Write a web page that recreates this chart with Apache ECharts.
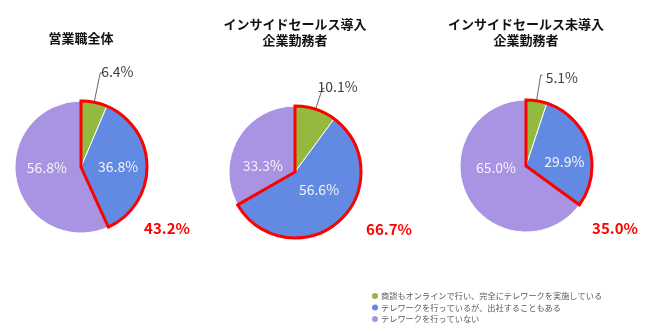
<!DOCTYPE html>
<html>
<head>
<meta charset="utf-8">
<script src="https://cdn.jsdelivr.net/npm/echarts@6/dist/echarts.min.js"></script>
<style>
  html, body { margin: 0; padding: 0; background: #fff; }
  #chart { width: 650px; height: 333px; }
</style>
</head>
<body>
<div id="chart"></div>
<script>
// Telework status of sales staff, split by whether the company uses inside sales
const categories = [
  '商談もオンラインで行い、完全にテレワークを実施している',
  'テレワークを行っているが、出社することもある',
  'テレワークを行っていない'
];
const groupTitles = [
  '営業職全体',
  'インサイドセールス導入\n企業勤務者',
  'インサイドセールス未導入\n企業勤務者'
];
const fullRemote = [6.4, 10.1, 5.1];
const partRemote = [36.8, 56.6, 29.9];
const noRemote = [56.8, 33.3, 65.0];

const colors = ['#93b93f', '#628ae3', '#a993e3'];
const FONT = '"Noto Sans CJK JP", "Noto Sans", sans-serif';

// layout of the three pies: centre, title top, total-label offset,
// leader length and small nudges for each slice label
const pies = [
  { c: [81, 167], titleTop: 30, tot: [86, 61], lineLen: 30,
    nudge: [[-2, -1], [1, 0], [1, -7]] },
  { c: [295, 172], titleTop: 16, tot: [94, 57], lineLen: 22,
    nudge: [[-8, -2], [0, -9], [-1, 12]] },
  { c: [526, 166], titleTop: 16, tot: [89, 62], lineLen: 26,
    nudge: [[2, 3], [4, 7], [2, -15]] }
];
const R = 66;

const fmt = v => v.toFixed(1) + '%';

const series = [];
const titles = [];

pies.forEach((p, i) => {
  titles.push({
    text: groupTitles[i],
    left: p.c[0],
    top: p.titleTop,
    textAlign: 'center',
    padding: 0,
    textStyle: {
      fontFamily: FONT, fontSize: 13, fontWeight: 'bold',
      color: '#111', lineHeight: 16
    }
  });

  const vals = [fullRemote[i], partRemote[i], noRemote[i]];

  // main pie
  series.push({
    type: 'pie',
    center: p.c,
    radius: R,
    startAngle: 90,
    clockwise: true,
    avoidLabelOverlap: false,
    silent: true,
    animation: false,
    itemStyle: { borderColor: '#fff', borderWidth: 1 },
    labelLayout: params => ({
      dx: p.nudge[params.dataIndex][0],
      dy: p.nudge[params.dataIndex][1]
    }),
    data: vals.map((v, k) => ({
      name: categories[k],
      value: v,
      itemStyle: { color: colors[k] },
      label: k === 0 ? {
        show: true,
        position: 'outside',
        formatter: d => fmt(d.value),
        color: '#404040',
        fontFamily: FONT,
        fontSize: 14,
        distanceToLabelLine: 1,
        overflow: 'none'
      } : {
        show: true,
        position: 'inside',
        formatter: d => fmt(d.value),
        color: '#f4f4f8',
        fontFamily: FONT,
        fontSize: 14
      },
      labelLine: k === 0 ? {
        show: true,
        length: p.lineLen,
        length2: 2,
        lineStyle: { color: '#404040', width: 0.8 }
      } : { show: false }
    }))
  });

  // red outline around the slices of people doing some telework
  const remoteSum = fullRemote[i] + partRemote[i];
  series.push({
    type: 'pie',
    center: p.c,
    radius: R,
    startAngle: 90,
    clockwise: true,
    silent: true,
    animation: false,
    z: 3,
    labelLayout: params => params.dataIndex === 0 ? {
      x: p.c[0] + p.tot[0],
      y: p.c[1] + p.tot[1],
      align: 'center',
      verticalAlign: 'middle'
    } : {},
    data: [
      {
        name: 'remote',
        value: remoteSum,
        itemStyle: { color: 'rgba(0,0,0,0)', borderColor: '#ff0000', borderWidth: 3, borderJoin: 'miter' },
        label: {
          show: true,
          position: 'inside',
          formatter: d => fmt(d.value),
          color: '#ff0000',
          fontFamily: FONT,
          fontSize: 15,
          fontWeight: 'bold'
        },
        labelLine: { show: false }
      },
      {
        name: 'office',
        value: noRemote[i],
        itemStyle: { color: 'rgba(0,0,0,0)', borderWidth: 0 },
        label: { show: false },
        labelLine: { show: false }
      }
    ]
  });
});

const chart = echarts.init(document.getElementById('chart'), null, { renderer: 'canvas' });
chart.setOption({
  backgroundColor: '#fff',
  animation: false,
  color: colors,
  title: titles,
  legend: {
    data: categories,
    orient: 'vertical',
    left: 370,
    top: 291,
    padding: 0,
    itemGap: 1.5,
    itemWidth: 8,
    itemHeight: 8,
    icon: 'circle',
    selectedMode: false,
    textStyle: {
      fontFamily: FONT, fontSize: 8.2, color: '#595959',
      lineHeight: 10, padding: [0, 0, 0, -3]
    }
  },
  series: series
});
</script>
</body>
</html>
